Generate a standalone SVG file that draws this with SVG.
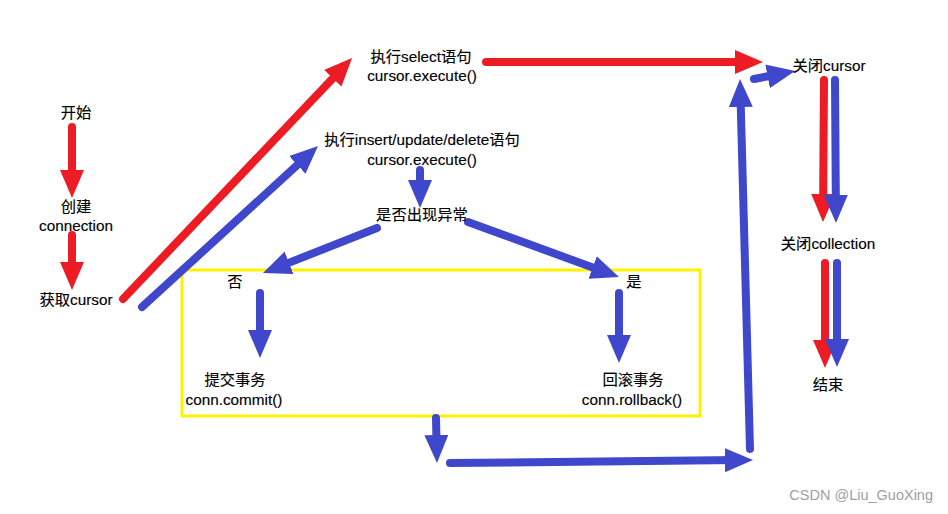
<svg xmlns="http://www.w3.org/2000/svg" width="948" height="514" viewBox="0 0 948 514">
<style>
.t{font-family:"Liberation Sans","Noto Sans CJK SC",sans-serif;font-size:15.3px;fill:#000;stroke:#000;stroke-width:0.15;text-anchor:middle}
.r{stroke:#ED1C24;stroke-width:8;stroke-linecap:round;fill:none;marker-end:url(#hr)}
.b{stroke:#3F48CC;stroke-width:8;stroke-linecap:round;fill:none;marker-end:url(#hb)}
.wm{font-family:"Liberation Sans",sans-serif;font-size:14.5px;fill:#a0a0a0;text-anchor:end}
</style>
<defs>
<marker id="hr" viewBox="0 0 28 24" refX="14" refY="12" markerWidth="28" markerHeight="24" markerUnits="userSpaceOnUse" orient="auto"><path d="M0,0 L28,12 L0,24 Z" fill="#ED1C24"/></marker>
<marker id="hb" viewBox="0 0 28 24" refX="14" refY="12" markerWidth="28" markerHeight="24" markerUnits="userSpaceOnUse" orient="auto"><path d="M0,0 L28,12 L0,24 Z" fill="#3F48CC"/></marker>
</defs>
<rect width="948" height="514" fill="#fff"/>
<rect id="tx-box" x="182" y="270" width="518" height="146" fill="none" stroke="#FFF200" stroke-width="3"/>
<g id="connectors">
<path class="r" d="M72,127 L72,184"/>
<path class="r" d="M72,235 L72,276"/>
<path class="r" d="M123,299 L342.4,68.2"/>
<path class="b" d="M142,307 L307.7,155.5"/>
<path class="r" d="M486,62 L749,62"/>
<path class="b" d="M754,79 L781.3,73.7"/>
<path class="b" d="M750,449 L740.4,93"/>
<path class="b" d="M450,463 L739,460.1"/>
<path class="b" d="M436,418 L436.7,449"/>
<path class="r" d="M824,80 L823.1,208"/>
<path class="b" d="M835,80 L835.9,209"/>
<path class="r" d="M825,263 L825,354"/>
<path class="b" d="M837,263 L837,353"/>
<path class="b" d="M420,170 L420,194"/>
<path class="b" d="M377,228 L276,267.9"/>
<path class="b" d="M468,222 L605.8,272.2"/>
<path class="b" d="M260,293 L260,344"/>
<path class="b" d="M619,293 L619,349"/>
</g>
<g id="start"><text class="t" x="76" y="118">开始</text></g>
<g id="create-conn"><text class="t" x="76" y="212">创建</text><text class="t" x="76" y="231">connection</text></g>
<g id="get-cursor"><text class="t" x="76" y="305">获取cursor</text></g>
<g id="exec-select"><text class="t" x="421" y="62">执行select语句</text><text class="t" x="422" y="81">cursor.execute()</text></g>
<g id="exec-dml"><text class="t" x="422" y="145">执行insert/update/delete语句</text><text class="t" x="422" y="165">cursor.execute()</text></g>
<g id="exception"><text class="t" x="422" y="220">是否出现异常</text></g>
<g id="no"><text class="t" x="235" y="287">否</text></g>
<g id="yes"><text class="t" x="634" y="287">是</text></g>
<g id="commit"><text class="t" x="235" y="385">提交事务</text><text class="t" x="234" y="405">conn.commit()</text></g>
<g id="rollback"><text class="t" x="633" y="385">回滚事务</text><text class="t" x="632" y="405">conn.rollback()</text></g>
<g id="close-cursor"><text class="t" x="829" y="71">关闭cursor</text></g>
<g id="close-collection"><text class="t" x="828" y="249">关闭collection</text></g>
<g id="end"><text class="t" x="828" y="390">结束</text></g>
<text class="wm" x="933" y="500">CSDN @Liu_GuoXing</text>
</svg>
